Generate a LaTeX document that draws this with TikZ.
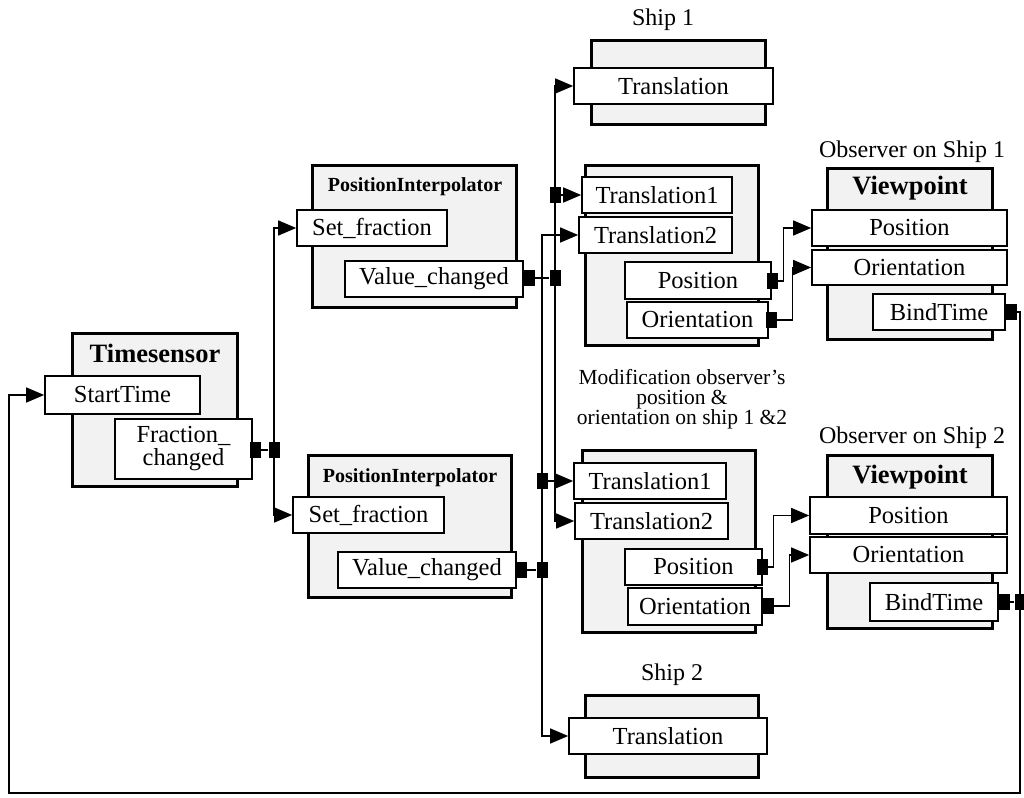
\documentclass[tikz,border=0pt]{standalone}
\usepackage{fontspec}
\setmainfont{Liberation Serif}
\usetikzlibrary{arrows.meta}
\newcommand\fR{\fontsize{24.5}{23}\selectfont}
\newcommand\fB{\fontsize{26.5}{28}\selectfont\bfseries}
\newcommand\fPI{\fontsize{20}{22}\selectfont\bfseries}
\newcommand\fL{\fontsize{24}{26}\selectfont}
\newcommand\fM{\fontsize{21.5}{20}\selectfont}
\newcommand\rbox[7]{\node[#2,minimum width={(#5-#3)*1pt},minimum height={(#6-#4)*1pt}] (#1) at ({(#3+#5)/2},{(#4+#6)/2}) {#7};}
\tikzset{
  outer/.style={draw, line width=3pt, fill=black!5, inner sep=0pt},
  fld/.style={draw, line width=1.7pt, fill=white, inner sep=0pt, font=\fR},
  port/.style={fill=black, minimum width=11pt, minimum height=16pt, inner sep=0pt},
  arr/.style={line width=1.5pt, -{Triangle[length=18pt,width=15pt]}},
  wire/.style={line width=1.5pt},
  ttl/.style={font=\fB, inner sep=0pt},
  pit/.style={font=\fPI, inner sep=0pt},
  lbl/.style={font=\fL, inner sep=0pt},
  mlbl/.style={font=\fM, inner sep=0pt, align=center},
}
\begin{document}
\begin{tikzpicture}[x=1pt,y=-1pt]
\useasboundingbox (0,0) rectangle (1024,797);
\fill[white] (0,0) rectangle (1024,797);
% Timesensor
\rbox{ts}{outer}{72}{333}{237}{486}{}
\node[ttl] (tsT) at (155,353) {Timesensor};
\rbox{st}{fld}{45}{376}{200}{414}{StartTime}
\rbox{fc}{fld,align=center}{115}{419}{252}{479}{Fraction\_\\changed}
\node[port] (fcp1) at (255,450) {};
\node[port] (fcp2) at (274,450) {};
% PositionInterpolator 1
\rbox{pi1}{outer}{312}{165}{516}{307}{}
\node[pit] (pi1T) at (415,187) {PositionInterpolator};
\rbox{sf1}{fld}{297}{210}{447}{246}{Set\_fraction}
\rbox{vc1}{fld}{345}{261}{523}{297}{Value\_changed}
\node[port] (vc1p1) at (529,278) {};
\node[port] (vc1p2) at (555,278) {};
% PositionInterpolator 2
\rbox{pi2}{outer}{308}{455}{511}{597}{}
\node[pit] (pi2T) at (410,478) {PositionInterpolator};
\rbox{sf2}{fld}{293}{497}{444}{533}{Set\_fraction}
\rbox{vc2}{fld}{338}{552}{516}{588}{Value\_changed}
\node[port] (vc2p1) at (521,570) {};
\node[port] (vc2p2) at (542,570) {};
% Ship 1
\node[lbl] (s1L) at (663,20) {Ship 1};
\rbox{s1}{outer}{591}{41}{765}{124}{}
\rbox{s1t}{fld}{574}{68}{773}{104}{Translation}
% Ship 2
\node[lbl] (s2L) at (672,675) {Ship 2};
\rbox{s2}{outer}{585}{695}{758}{777}{}
\rbox{s2t}{fld}{569}{718}{767}{754}{Translation}
% Modifier 1
\rbox{m1}{outer}{585}{165}{758}{345}{}
\rbox{m1t1}{fld}{582}{177}{732}{213}{Translation1}
\rbox{m1t2}{fld}{579}{217}{732}{253}{Translation2}
\rbox{m1p}{fld}{625}{262}{771}{299}{Position}
\rbox{m1o}{fld}{627}{302}{768}{338}{Orientation}
\node[port] (m1pp) at (772,281) {};
\node[port] (m1op) at (771,320) {};
\node[port] (j1) at (555,195) {};
% Modifier 2
\node[mlbl] (modL) at (682,399) {Modification observer's\\position \&\\orientation on ship 1 \&2};
\rbox{m2}{outer}{582}{450}{755}{632}{}
\rbox{m2t1}{fld}{574}{463}{726}{499}{Translation1}
\rbox{m2t2}{fld}{575}{503}{728}{539}{Translation2}
\rbox{m2p}{fld}{625}{549}{762}{585}{Position}
\rbox{m2o}{fld}{628}{588}{762}{625}{Orientation}
\node[port] (m2pp) at (762,567) {};
\node[port] (m2op) at (768,606) {};
\node[port] (j2) at (542,481) {};
% Viewpoint 1
\node[lbl] (v1L) at (912,152) {Observer on Ship 1};
\rbox{v1}{outer}{827}{168}{992}{339}{}
\node[ttl] (v1T) at (910,188) {Viewpoint};
\rbox{v1p}{fld}{812}{210}{1007}{246}{Position}
\rbox{v1o}{fld}{812}{250}{1007}{285}{Orientation}
\rbox{v1b}{fld}{873}{294}{1005}{330}{BindTime}
\node[port] (v1bp) at (1011,312) {};
% Viewpoint 2
\node[lbl] (v2L) at (912,438) {Observer on Ship 2};
\rbox{v2}{outer}{827}{455}{992}{628}{}
\node[ttl] (v2T) at (910,477) {Viewpoint};
\rbox{v2p}{fld}{810}{497}{1007}{534}{Position}
\rbox{v2o}{fld}{810}{537}{1007}{573}{Orientation}
\rbox{v2b}{fld}{870}{583}{998}{621}{BindTime}
\node[port] (v2bp1) at (1004,602) {};
\node[port] (v2bp2) at (1020,602) {};
% wires
\draw[wire] (fcp1) -- (fcp2);
\draw[arr] (fcp2.north) |- (sf1.west);
\draw[arr] (fcp2.south) |- (sf2.west);
\draw[wire] (vc1p1) -- (vc1p2);
\draw[arr] (vc1p2.north) |- (s1t.west);
\draw[arr] (j1) -- (m1t1.west);
\draw[arr] (vc1p2.south) |- (m2t2.west);
\draw[wire] (vc2p1) -- (vc2p2);
\draw[arr] (vc2p2.north) |- (m1t2.west);
\draw[arr] (j2) -- (m2t1.west);
\draw[arr] (vc2p2.south) |- (s2t.west);
\draw[arr] (m1pp.east) -- ++(6,0) |- (v1p.west);
\draw[arr] (m1op.east) -- ++(16,0) |- (v1o.west);
\draw[arr] (m2pp.east) -- ++(6,0) |- (v2p.west);
\draw[arr] (m2op.east) -- ++(16,0) |- (v2o.west);
\draw[wire] (v2bp1) -- (v2bp2);
\coordinate (fbr) at (1020,793);
\coordinate (fbl) at (9,793);
\draw[arr] (v1bp.east) -| (fbr) -- (fbl) |- (st.west);
\end{tikzpicture}
\end{document}
